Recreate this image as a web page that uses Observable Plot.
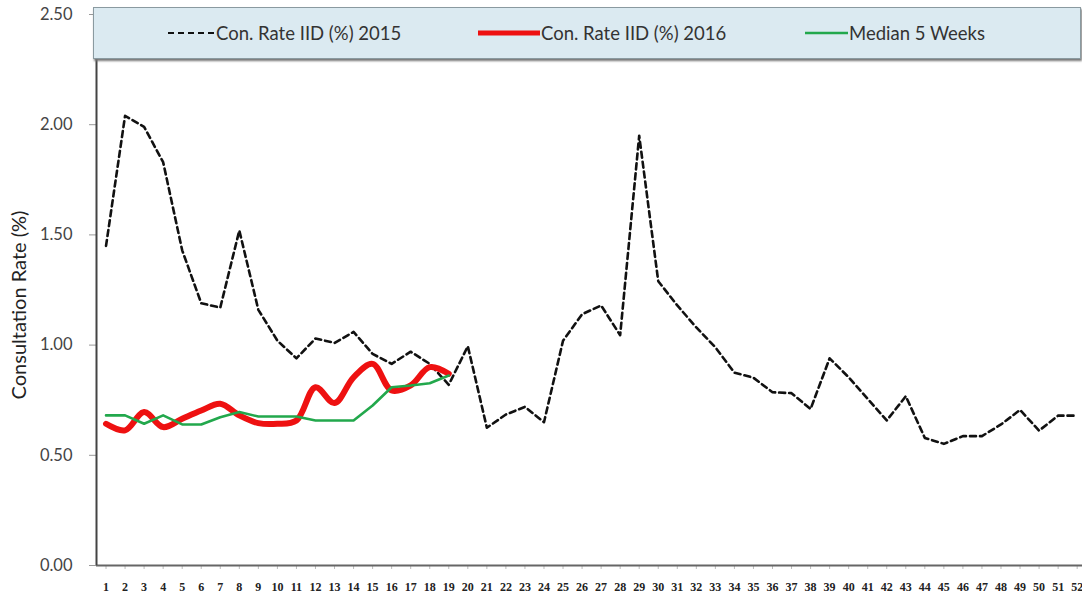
<!DOCTYPE html>
<html>
<head>
<meta charset="utf-8">
<script src="https://cdn.jsdelivr.net/npm/d3@7"></script>
<script src="https://cdn.jsdelivr.net/npm/@observablehq/plot@0.6"></script>
<style>
  body { margin: 0; background: #fff; }
  #wrap { position: relative; width: 1082px; height: 598px; }
  #legend { position: absolute; left: 93px; top: 7px; width: 986px; height: 50px;
    background: #dbeaf1; border: 1px solid #8a9aa0; box-shadow: 1px 2px 2px #777;
    font-family: Lato, "Open Sans", sans-serif; font-size: 18.5px; color: #333; }
  .item { position: absolute; top: 0; height: 50px; display: flex; align-items: center; }
  .item svg { display: block; }
</style>
</head>
<body>
<div id="wrap">
  <div id="chart"></div>
  <div id="legend"></div>
</div>
<script>
const weeks = d3.range(1, 53);
const rate2015 = [1.45, 2.04, 1.99, 1.83, 1.43, 1.19, 1.17, 1.52, 1.16, 1.02,
  0.94, 1.03, 1.01, 1.06, 0.96, 0.915, 0.97, 0.915, 0.82, 0.995,
  0.625, 0.685, 0.72, 0.65, 1.02, 1.14, 1.18, 1.045, 1.95, 1.29,
  1.18, 1.08, 0.99, 0.875, 0.852, 0.786, 0.782, 0.71, 0.94, 0.854,
  0.756, 0.658, 0.768, 0.579, 0.552, 0.587, 0.587, 0.64, 0.706, 0.612,
  0.68, 0.68];
const rate2016 = [0.643, 0.613, 0.696, 0.628, 0.666, 0.703, 0.734, 0.681, 0.646, 0.643,
  0.658, 0.809, 0.737, 0.854, 0.915, 0.794, 0.817, 0.90, 0.87];
const median5 = [0.681, 0.681, 0.643, 0.681, 0.64, 0.64, 0.673, 0.696, 0.676, 0.676,
  0.676, 0.658, 0.658, 0.658, 0.726, 0.809, 0.817, 0.827, 0.862];
const yTicks = [0, 0.5, 1.0, 1.5, 2.0, 2.5];
const seriesNames = ["Con. Rate IID (%) 2015", "Con. Rate IID (%) 2016", "Median 5 Weeks"];
const yTitle = "Consultation Rate (%)";

const d2015 = rate2015.map((v, i) => ({week: weeks[i], value: v}));
const d2016 = rate2016.map((v, i) => ({week: weeks[i], value: v}));
const dMed = median5.map((v, i) => ({week: weeks[i], value: v}));

const chart = Plot.plot({
  width: 1082,
  height: 598,
  marginLeft: 96,
  marginRight: 0,
  marginTop: 14,
  marginBottom: 33,
  style: {background: "#fff", overflow: "visible"},
  x: {domain: [0.5, 52.28], label: null},
  y: {domain: [0, 2.5], label: null},
  marks: [
    Plot.axisY({ticks: yTicks, tickFormat: d3.format(".2f"), tickSize: 7, tickPadding: 17,
      fontSize: 16.5, fontFamily: "Lato, 'Open Sans', sans-serif", fill: "#444", stroke: "#999", label: null}),
    Plot.axisX({ticks: weeks, tickFormat: d => d, tickSize: 4, tickPadding: 13,
      fontSize: 12, fontFamily: "'Liberation Serif', serif", fontWeight: "bold", fill: "#222", stroke: "#bbb", label: null}),
    Plot.ruleY([0], {stroke: "#666", strokeWidth: 2}),
    Plot.ruleX([0.5], {stroke: "#444", strokeWidth: 2, y1: 0, y2: 2.5}),
    Plot.line(d2015, {x: "week", y: "value", stroke: "#111", strokeWidth: 2.6, strokeDasharray: "6,4"}),
    Plot.line(d2016, {x: "week", y: "value", stroke: "#ee1111", strokeWidth: 6, curve: "catmull-rom"}),
    Plot.line(dMed, {x: "week", y: "value", stroke: "#22a84c", strokeWidth: 2.6})
  ]
});
document.getElementById("chart").appendChild(chart);

// y-axis title
const svg = d3.select(chart);
svg.append("text")
  .attr("transform", "translate(26,305) rotate(-90)")
  .attr("text-anchor", "middle")
  .attr("font-family", "Lato, 'Open Sans', sans-serif")
  .attr("font-size", 20)
  .attr("fill", "#222")
  .text(yTitle);

// legend
const legend = d3.select("#legend");
const items = [
  {left: 74, w: 47, color: "#111", sw: 2.2, dash: "6,4", name: seriesNames[0]},
  {left: 384, w: 62, color: "#ee1111", sw: 5, dash: null, name: seriesNames[1]},
  {left: 711, w: 43, color: "#22a84c", sw: 2.6, dash: null, name: seriesNames[2]}
];
items.forEach(it => {
  const div = legend.append("div").attr("class", "item").style("left", it.left + "px");
  const s = div.append("svg").attr("width", it.w).attr("height", 10);
  s.append("line").attr("x1", 0).attr("x2", it.w).attr("y1", 5).attr("y2", 5)
    .attr("stroke", it.color).attr("stroke-width", it.sw)
    .attr("stroke-dasharray", it.dash).attr("stroke-linecap", it.dash ? "butt" : "round");
  div.append("span").text(it.name).style("margin-left", "1px");
});
</script>
</body>
</html>
